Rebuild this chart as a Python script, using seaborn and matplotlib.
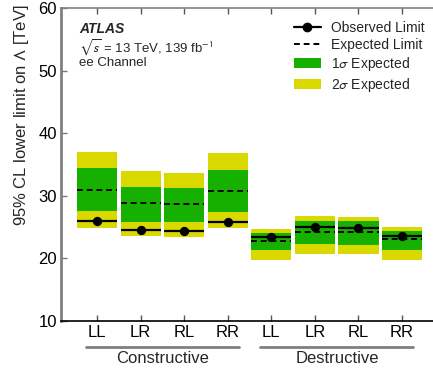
import numpy as np
import pandas as pd
import matplotlib
matplotlib.use("Agg")
import matplotlib.pyplot as plt
import matplotlib.transforms as mtransforms
from matplotlib.lines import Line2D
from matplotlib.patches import Patch
import seaborn as sns

# values (TeV)
helicity = ['LL', 'LR', 'RL', 'RR', 'LL', 'LR', 'RL', 'RR']
interference = ['Constructive'] * 4 + ['Destructive'] * 4
observed = [26.0, 24.5, 24.4, 25.8, 23.4, 25.0, 24.9, 23.6]
expected = [30.9, 28.85, 28.7, 30.8, 22.8, 24.2, 24.2, 23.1]
sig1_lo = [27.6, 25.8, 25.8, 27.4, 21.3, 22.3, 22.2, 21.3]
sig1_hi = [34.4, 31.4, 31.2, 34.1, 24.05, 26.0, 25.9, 24.4]
sig2_lo = [24.9, 23.6, 23.4, 24.9, 19.7, 20.7, 20.7, 19.7]
sig2_hi = [37.0, 34.0, 33.6, 36.8, 24.7, 26.8, 26.6, 25.0]

df = pd.DataFrame({'helicity': helicity, 'interference': interference,
                   'observed': observed, 'expected': expected,
                   'sig1_lo': sig1_lo, 'sig1_hi': sig1_hi,
                   'sig2_lo': sig2_lo, 'sig2_hi': sig2_hi})
df['pos'] = np.arange(len(df))

sns.set_style("ticks")
plt.rcParams['font.family'] = ['Liberation Sans', 'DejaVu Sans']
plt.rcParams['mathtext.fontset'] = 'stixsans'

green = '#16b000'
yellow = '#d9d900'
w = 0.92

fig = plt.figure(figsize=(4.33, 3.69), dpi=100)
ax = fig.add_axes([61 / 433, 1 - 321 / 369, (433 - 61) / 433, (321 - 8) / 369])

ax.bar(df['pos'], df['sig2_hi'] - df['sig2_lo'], bottom=df['sig2_lo'],
       width=w, color=yellow, linewidth=0)
ax.bar(df['pos'], df['sig1_hi'] - df['sig1_lo'], bottom=df['sig1_lo'],
       width=w, color=green, linewidth=0)
ax.hlines(df['expected'], df['pos'] - w / 2, df['pos'] + w / 2,
          colors='black', linestyles=(0, (3, 2)), linewidth=1.4)
ax.hlines(df['observed'], df['pos'] - w / 2, df['pos'] + w / 2,
          colors='black', linewidth=1.6)
sns.scatterplot(data=df, x='pos', y='observed', color='black', s=45,
                edgecolor='black', linewidth=0, zorder=5, ax=ax, legend=False)

ax.set_xlim(-0.826, 7.71)
ax.set_ylim(10, 60)
ax.set_xticks(df['pos'])
ax.set_xticklabels(helicity)
ax.set_yticks([10, 20, 30, 40, 50, 60])
ax.set_xlabel('')
ax.set_ylabel('95% CL lower limit on $\\Lambda$ [TeV]', fontsize=12, loc='top')
ax.yaxis.set_label_coords(-0.08, 1.01)
ax.tick_params(axis='both', direction='in', labelsize=12, length=4, width=1,
               top=True, pad=3)
ax.tick_params(axis='x', colors='#555555', labelcolor='black')
ax.tick_params(axis='y', colors='#777777', labelcolor='black')

ax.spines['right'].set_visible(False)
ax.spines['left'].set_color('#808080')
ax.spines['left'].set_linewidth(2)
ax.spines['top'].set_color('#808080')
ax.spines['top'].set_linewidth(1.2)
ax.spines['bottom'].set_color('black')
ax.spines['bottom'].set_linewidth(1.2)

# group labels below the helicity ticks
trans = mtransforms.blended_transform_factory(ax.transData, ax.transAxes)
for name, grp in df.groupby('interference'):
    x0 = grp['pos'].min() - 0.25
    x1 = grp['pos'].max() + 0.26
    ax.plot([x0, x1], [-0.083, -0.083], color='#808080', lw=2,
            transform=trans, clip_on=False)
    ax.text((x0 + x1) / 2, -0.121, name, transform=trans, ha='center',
            va='center', fontsize=12)

# header text, positions in figure pixels from the top-left
fig.text(79 / 433, 1 - 29 / 369, 'ATLAS', fontsize=10, fontweight='bold',
         fontstyle='italic', va='center')
fig.text(79 / 433, 1 - 48 / 369, '$\\sqrt{s}$ = 13 TeV, 139 fb$^{-1}$',
         fontsize=9.5, va='center')
fig.text(79 / 433, 1 - 63 / 369, 'ee Channel', fontsize=9.5, va='center')

handles = [Line2D([], [], color='black', lw=1.6, marker='o', markersize=6),
           Line2D([], [], color='black', lw=1.4, linestyle=(0, (3, 2))),
           Patch(facecolor=green, edgecolor='none'),
           Patch(facecolor=yellow, edgecolor='none')]
labels = ['Observed Limit', 'Expected Limit', '1$\\sigma$ Expected',
          '2$\\sigma$ Expected']
ax.legend(handles, labels, loc='upper right', bbox_to_anchor=(1.0, 0.985),
          frameon=False, fontsize=10, handlelength=2.0, handletextpad=0.7,
          labelspacing=0.22, borderaxespad=0.2)

fig.savefig('out.png', dpi=100)
